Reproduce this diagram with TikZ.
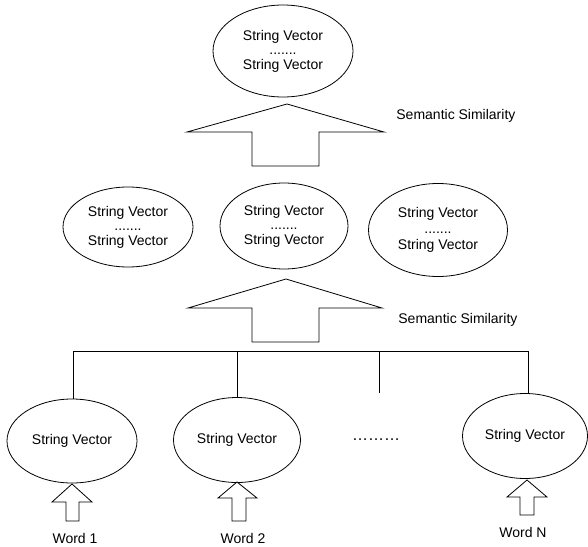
\documentclass[tikz,border=0pt]{standalone}
\usepackage{fontspec}
\setmainfont{Liberation Sans}
\usepackage{tikz}
\usetikzlibrary{positioning}
\usetikzlibrary{shapes}
\tikzset{
vec/.style = {draw, ellipse, inner sep=0pt, align=center, font=\fontsize{14}{14.5}\selectfont},
lbl/.style = {inner sep=0pt, font=\fontsize{14}{14.5}\selectfont},
tmp/.style = {coordinate},
blk/.style = {draw, line join=miter, fill=white}
}
\begin{document}
\begin{tikzpicture}[x=1pt, y=-1pt, line width=0.8pt]
    \useasboundingbox (0,0) rectangle (588,546);
    % the string vectors, top to bottom
    \node at (283,51) [vec, minimum width=140, minimum height=92] (top) {String Vector\\.......\\String Vector};
    \node at (128,227) [vec, minimum width=130, minimum height=80] (midL) {String Vector\\.......\\String Vector};
    \node at (284,226) [vec, minimum width=128, minimum height=86] (midC) {String Vector\\.......\\String Vector};
    \node at (438,230) [vec, minimum width=139, minimum height=93, font=\fontsize{14}{16}\selectfont] (midR) {String Vector\\.......\\String Vector};
    \node at (72,441) [vec, minimum width=130, minimum height=84] (w1) {String Vector};
    \node at (237,440) [vec, minimum width=127, minimum height=85] (w2) {String Vector};
    \node at (525,436) [vec, minimum width=125, minimum height=85] (wN) {String Vector};
    \node at (376,440) [lbl, font=\fontsize{16}{16}\selectfont] (gap) {………};

    % labels
    \node at (396,116) [lbl, anchor=west] (sim1) {Semantic Similarity};
    \node at (398,320) [lbl, anchor=west] (sim2) {Semantic Similarity};
    \node at (75,538) [lbl] (word1) {Word 1};
    \node at (243,538) [lbl] (word2) {Word 2};
    \node at (523,532) [lbl] (wordN) {Word N};

    % big arrows
    \draw [blk] (287,104) -- (384,132) -- (319,132) -- (319,166) -- (252,166) -- (252,132) -- (187,132) -- cycle;
    \draw [blk] (286,279) -- (382,308) -- (319,308) -- (319,342) -- (252,342) -- (252,308) -- (188,308) -- cycle;

    % small arrows under the words
    \draw [blk] (72,484) -- (92,502) -- (79,502) -- (79,521) -- (66,521) -- (66,502) -- (52,502) -- cycle;
    \draw [blk] (237,482) -- (257,498) -- (246,498) -- (246,521) -- (232,521) -- (232,498) -- (218,498) -- cycle;
    \draw [blk] (527,480) -- (547,497) -- (534,497) -- (534,515) -- (520,515) -- (520,497) -- (507,497) -- cycle;

    % the bus over the word vectors
    \node at (73,351) [tmp] (j1) {};
    \node at (237,351) [tmp] (j2) {};
    \node at (379,351) [tmp] (j3) {};
    \node at (528,351) [tmp] (jN) {};
    \node at (379,393) [tmp] (j3end) {};
    \draw (j1) -- (jN);
    \draw (j1) -- (j1 |- w1.north);
    \draw (j2) -- (j2 |- w2.north);
    \draw (j3) -- (j3end);
    \draw (jN) -- (jN |- wN.north);
\end{tikzpicture}
\end{document}
